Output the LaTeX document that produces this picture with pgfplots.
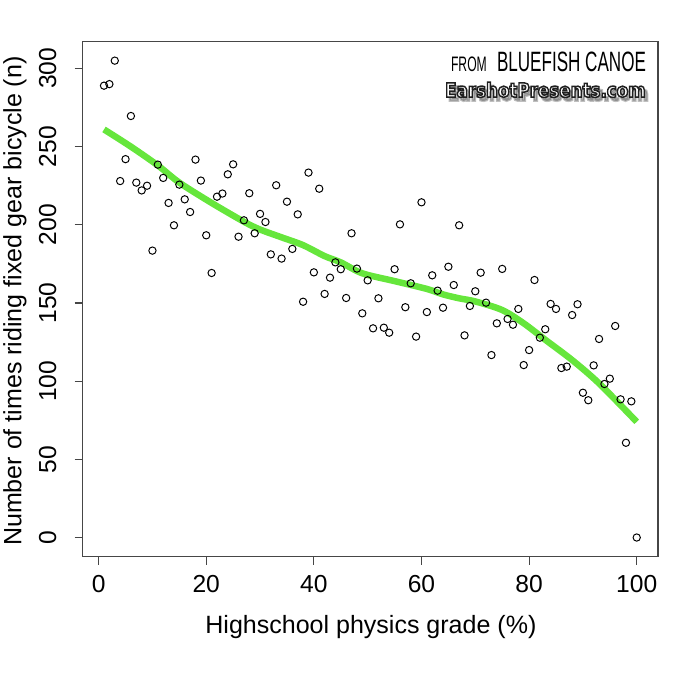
\documentclass[border=0pt]{standalone}
\usepackage{fontspec}
\setmainfont{Liberation Sans}
\newfontfamily\sitefont{DejaVu Sans}
\usepackage{pgfplots}
\pgfplotsset{compat=1.18}
\definecolor{smoothgreen}{RGB}{102,230,60}
\definecolor{framegray}{RGB}{70,70,70}

\begin{document}
\begin{tikzpicture}
\path[use as bounding box] (0,0) rectangle (17.475cm,17.475cm);
\begin{axis}[
  at={(2.0675cm,3.56cm)}, anchor=south west,
  scale only axis,
  width=14.383cm, height=12.875cm,
  xmin=-2.96, xmax=103.96,
  ymin=-12.2, ymax=317.2,
  xtick={0,20,...,100},
  ytick={0,50,...,300},
  tick align=outside,
  major tick length=0.2cm,
  axis line style={framegray, line width=1pt},
  every tick/.style={framegray, line width=0.8pt},
  xtick pos=bottom, ytick pos=left,
  /pgf/number format/assume math mode=true,
  tick label style={font=\fontsize{17.5}{21}\selectfont, inner sep=0pt},
  xticklabel style={anchor=north, yshift=-0.25cm},
  yticklabel style={rotate=90, anchor=south, yshift=0.45cm},
  clip=false,
]
% scatter of the raw counts
\addplot[only marks, mark=o, mark size=2.6pt, black, mark options={line width=0.7pt}]
  table {
x y
1 289
2 290
3 305
4 228
5 242
6 269.6
7 227
8 222
9 225
10 183.5
11 238.5
12 230
13 214
14 199.7
15 225.7
16 216.3
17 208.2
18 241.7
19 228.3
20 193.3
21 169.2
22 218
23 220
24 232.3
25 238.7
26 192.4
27 202.9
28 220.2
29 194.6
30 207
31 201.8
32 181.1
33 225.3
34 178.4
35 214.8
36 184.6
37 206.7
38 150.8
39 233.4
40 169.6
41 223.1
42 155.8
43 166.2
44 176
45 171.6
46 153.2
47 194.6
48 172
49 143.4
50 164.5
51 133.8
52 153
53 134.2
54 131
55 171.6
56 200.3
57 147.3
58 162.6
59 128.5
60 214.4
61 144.2
62 167.7
63 157.9
64 147
65 173.2
66 161.5
67 199.7
68 129.3
69 148.1
70 157.5
71 169.4
72 150.2
73 116.7
74 137
75 171.8
76 139.8
77 136.1
78 146.2
79 110.3
80 119.9
81 164.7
82 127.8
83 133.2
84 149.4
85 146.2
86 108.4
87 109.3
88 142.3
89 149.2
90 92.6
91 87.8
92 110.1
93 127
94 98.2
95 101.6
96 135.3
97 88.4
98 60.6
99 87.1
100 0
};
% smoothed trend
\addplot[smoothgreen, line width=4.6pt, smooth, tension=0.5, no marks]
  coordinates {
(1,261) (6,250) (11,238) (15,227) (21,214) (27,202) (30,197) (34,192)
(38,187) (42,180) (45,176) (49,169) (55,164) (61,159) (64,155.5)
(67,153) (70,151) (75,145.5) (79,137) (83,126.5) (88,113.5) (93,98.6) (100,74)
};
\end{axis}

\begin{scope}[x=0.025cm,y=0.025cm]
% axis titles
\node[font=\fontsize{17.8}{21}\selectfont] at (371,72) {Highschool physics grade (\%)};
\node[rotate=90, font=\fontsize{17.8}{21}\selectfont] at (15,398) {Number of times riding fixed gear bicycle (n)};

% credit lines
\node[anchor=base west, inner sep=0pt, xscale=0.58, font=\fontsize{14.9}{16}\selectfont] at (451,628) {FROM};
\node[anchor=base west, inner sep=0pt, xscale=0.61, font=\fontsize{19.9}{22}\selectfont] at (497,628) {BLUEFISH CANOE};
\node[anchor=base west, inner sep=0pt, xscale=0.85, opacity=0.25, text=black, font=\sitefont\bfseries\fontsize{14}{16}\selectfont] at (448,598.5)
  {\special{pdf:literal direct 2 Tr 1.6 w}EarshotPresents.com\special{pdf:literal direct 0 Tr}};
\node[anchor=base west, inner sep=0pt, xscale=0.85, text=white, font=\sitefont\bfseries\fontsize{14}{16}\selectfont] at (445,602)
  {\special{pdf:literal direct 1 g 0.12 G 2 Tr 1.1 w}EarshotPresents.com\special{pdf:literal direct 0 Tr}};
\end{scope}
\end{tikzpicture}
\end{document}
